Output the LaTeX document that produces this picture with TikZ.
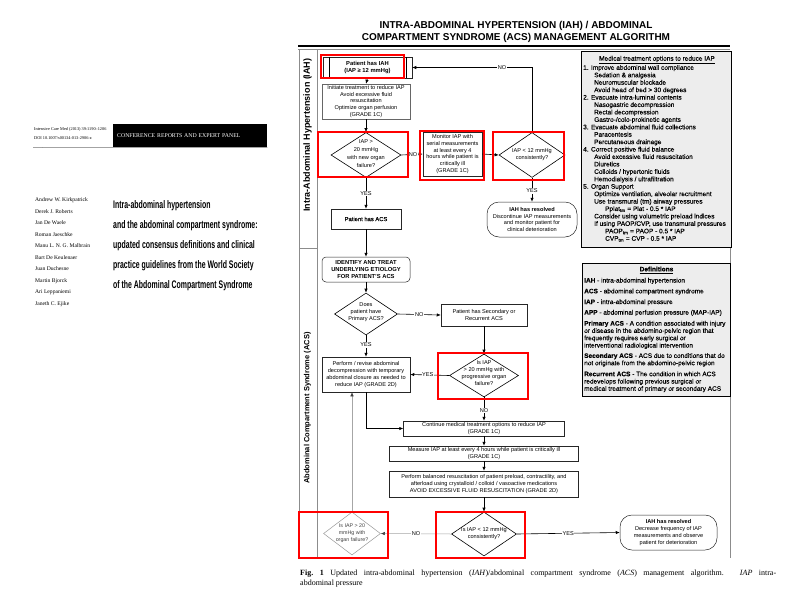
\documentclass[tikz,border=0pt]{standalone}
\usepackage{fontspec}
\usepackage{graphicx}
\setmainfont{Liberation Sans}
\newfontfamily\timesf{Liberation Serif}
\newfontfamily\semib[FakeBold=0.25]{Liberation Sans}
\usetikzlibrary{shapes.geometric,arrows.meta}
\newcommand\fsz[2]{\fontsize{#1}{#2}\selectfont}
\tikzset{
  flow/.style={draw=black!85, line width=0.5pt, fill=white, align=center, inner sep=0pt, font=\fsz{5.6}{6.8}},
  rnd/.style={flow, rounded corners=#1},
  dia/.style={diamond, draw=black, line width=0.6pt, fill=white, inner sep=0pt},
  dtxt/.style={align=center, inner sep=0pt, font=\fsz{5.6}{7.3}},
  arr/.style={-{Latex[length=4pt,width=3.4pt]}, line width=0.6pt},
  garr/.style={-{Latex[length=4pt,width=3.4pt,color=black!75]}, line width=0.5pt, draw=black!35},
  lbl/.style={fill=white, inner sep=0.6pt, font=\fsz{5.6}{6}},
  hl/.style={draw=red, line width=2pt},
  frm/.style={draw=black!45, line width=0.5pt},
  panel/.style={draw=black, line width=0.8pt, fill=black!7, inner sep=0pt, anchor=north west},
  ptxt/.style={inner sep=0pt, align=left, anchor=north west, font=\semib\fsz{6.5}{7.43}},
  ttlline/.style={anchor=base west, inner sep=0pt, font=\bfseries\fsz{11}{12}},
}
\begin{document}
\begin{tikzpicture}[x=1pt,y=-1pt]
\useasboundingbox (0,0) rectangle (800,600);
\fill[white] (0,0) rectangle (800,600);

% ---------- left: article header ----------
\node[anchor=west, inner sep=0, font=\timesf\fsz{4.3}{5}] (jr1) at (34,129) {Intensive Care Med (2013) 39:1190–1206};
\node[anchor=west, inner sep=0, font=\timesf\fsz{4.3}{5}] (jr2) at (34,138) {DOI 10.1007/s00134-013-2906-z};
\node[fill=black, text=white, anchor=north west, inner xsep=4pt, inner ysep=0pt, minimum height=23pt,
      text width=146pt, align=left, font=\timesf\fsz{5.8}{6}] (crep) at (113,124) {CONFERENCE REPORTS AND EXPERT PANEL};
\draw[black!55, line width=0.5pt] (33,147.5) -- (crep.south east);
\node[anchor=north west, inner sep=0, align=left, font=\timesf\fsz{5.6}{11.5}] (auth) at (35,197.5) {%
Andrew W. Kirkpatrick\\Derek J. Roberts\\Jan De Waele\\Roman Jaeschke\\Manu L. N. G. Malbrain\\%
Bart De Keulenaer\\Juan Duchesne\\Martin Bjorck\\Ari Leppaniemi\\Janeth C. Ejike};
\node[ttlline] (ttl1) at (113,208.5) {\scalebox{0.63}[1]{Intra-abdominal hypertension}};
\node[ttlline] (ttl2) at (113,228.5) {\scalebox{0.63}[1]{and the abdominal compartment syndrome:}};
\node[ttlline] (ttl3) at (113,248.5) {\scalebox{0.63}[1]{updated consensus definitions and clinical}};
\node[ttlline] (ttl4) at (113,268.5) {\scalebox{0.63}[1]{practice guidelines from the World Society}};
\node[ttlline] (ttl5) at (113,288.5) {\scalebox{0.63}[1]{of the Abdominal Compartment Syndrome}};

% ---------- main title ----------
\node[font=\bfseries\fsz{10}{12}, align=center, inner sep=0] (mtitle) at (516,31.5)
  {INTRA-ABDOMINAL HYPERTENSION (IAH) / ABDOMINAL\\COMPARTMENT SYNDROME (ACS) MANAGEMENT ALGORITHM};

% ---------- frame ----------
\draw[line width=1.4pt] (298,46) -- (730,46);
\draw[frm] (298,49) -- (730,49);
\draw[frm] (299,49) -- (299,558);
\draw[frm] (317,49) -- (317,558);
\draw[frm] (730,247) -- (730,558);
\draw[frm] (299,248) -- (317,248);
\node[rotate=90, inner sep=0, font=\bfseries\fsz{9}{10}] (lab1) at (307.5,135) {Intra-Abdominal Hypertension (IAH)};
\node[rotate=90, inner sep=0, font=\bfseries\fsz{7.5}{9}] (lab2) at (307.5,408) {Abdominal Compartment Syndrome (ACS)};

% ---------- right panels ----------
\node[panel, minimum width=150pt, minimum height=196pt] (treatbox) at (581,51) {};
\node[inner sep=0, font=\semib\fsz{6.5}{7}] (treatttl) at (657,60) {\underline{Medical treatment options to reduce IAP}};
\node[ptxt] (treat) at (583,64.9) {%
1. Improve abdominal wall compliance\\
\hspace*{11pt}Sedation \& analgesia\\
\hspace*{11pt}Neuromuscular blockade\\
\hspace*{11pt}Avoid head of bed > 30 degrees\\
2. Evacuate intra-luminal contents\\
\hspace*{11pt}Nasogastric decompression\\
\hspace*{11pt}Rectal decompression\\
\hspace*{11pt}Gastro-/colo-prokinetic agents\\
3. Evacuate abdominal fluid collections\\
\hspace*{11pt}Paracentesis\\
\hspace*{11pt}Percutaneous drainage\\
4. Correct positive fluid balance\\
\hspace*{11pt}Avoid excessive fluid resuscitation\\
\hspace*{11pt}Diuretics\\
\hspace*{11pt}Colloids / hypertonic fluids\\
\hspace*{11pt}Hemodialysis / ultrafiltration\\
5. Organ Support\\
\hspace*{11pt}Optimize ventilation, alveolar recruitment\\
\hspace*{11pt}Use transmural (tm) airway pressures\\
\hspace*{22pt}Pplat\textsubscript{tm} = Plat - 0.5 * IAP\\
\hspace*{11pt}Consider using volumetric preload indices\\
\hspace*{11pt}If using PAOP/CVP, use transmural pressures\\
\hspace*{22pt}PAOP\textsubscript{tm} = PAOP - 0.5 * IAP\\
\hspace*{22pt}CVP\textsubscript{tm} = CVP - 0.5 * IAP};

\node[panel, minimum width=148pt, minimum height=133pt] (defbox) at (582,263) {};
\node[inner sep=0, font=\semib\bfseries\fsz{6.5}{7}] (defttl) at (656.5,270) {\underline{Definitions}};
\node[ptxt, font=\semib\fsz{6.5}{7.3}] (defs) at (584,277.6) {%
\textbf{IAH} - intra-abdominal hypertension\\[3.5pt]
\textbf{ACS} - abdominal compartment syndrome\\[3.4pt]
\textbf{IAP} - intra-abdominal pressure\\[3.3pt]
\textbf{APP} - abdominal perfusion pressure (MAP-IAP)\\[3.7pt]
\textbf{Primary ACS} - A condition associated with injury\\
or disease in the abdomino-pelvic region that\\
frequently requires early surgical or\\
interventional radiological intervention\\[3.1pt]
\textbf{Secondary ACS} - ACS due to conditions that do\\
not originate from the abdomino-pelvic region\\[3.7pt]
\textbf{Recurrent ACS} - The condition in which ACS\\
redevelops following previous surgical or\\
medical treatment of primary or secondary ACS};

% ---------- IAH section ----------
\node[flow, minimum width=89pt, minimum height=21pt, font=\bfseries\fsz{5.8}{7.5}] (n1) at (367.5,67.5) {Patient has IAH\\(IAP ≥ 12 mmHg)};
\draw[line width=0.5pt] (329,57) -- (329,78) (406,57) -- (406,78);
\node[flow, draw=black!60, minimum width=88pt, minimum height=35pt] (n2) at (366,101.5)
  {Initiate treatment to reduce IAP\\Avoid excessive fluid\\resuscitation\\Optimize organ perfusion\\(GRADE 1C)};
\node[dia, minimum width=70pt, minimum height=45pt] (d1) at (366,155) {};
\node[dtxt, font=\fsz{5.6}{8}] (d1t) at (366,154) {IAP >\\20 mmHg\\with new organ\\failure?};
\node[flow, minimum width=59pt, minimum height=44pt, font=\fsz{5.6}{6.9}] (n3) at (452.5,154)
  {Monitor IAP with\\serial measurements\\at least every 4\\hours while patient is\\critically ill\\(GRADE 1C)};
\node[dia, minimum width=66pt, minimum height=45pt] (d2) at (532,155) {};
\node[dtxt] (d2t) at (532,154.7) {IAP < 12 mmHg\\consistently?};
\node[rnd=12pt, minimum width=90pt, minimum height=35pt] (n4) at (532,219.5)
  {\textbf{IAH has resolved}\\Discontinue IAP measurements\\and monitor patient for\\clinical deterioration};
\node[flow, minimum width=70pt, minimum height=20pt, font=\semib\fsz{5.8}{7}] (n5) at (366,219) {Patient has ACS};

% ---------- ACS section ----------
\node[rnd=4pt, minimum width=88pt, minimum height=25pt, font=\bfseries\fsz{5.8}{7.4}] (n6) at (366,269.5)
  {IDENTIFY AND TREAT\\UNDERLYING ETIOLOGY\\FOR PATIENT'S ACS};
\node[dia, minimum width=63pt, minimum height=42pt] (d3) at (366,314) {};
\node[dtxt] (d3t) at (366,312) {Does\\patient have\\Primary ACS?};
\node[flow, minimum width=86pt, minimum height=22pt, font=\fsz{5.6}{7.3}] (n7) at (484,315)
  {Patient has Secondary or\\Recurrent ACS};
\node[dia, minimum width=69pt, minimum height=43pt] (d4) at (484,375.5) {};
\node[dtxt, font=\fsz{5.6}{7}] (d4t) at (484,373.5) {Is IAP\\> 20 mmHg with\\progressive organ\\failure?};
\node[flow, minimum width=88pt, minimum height=35pt] (n8) at (366,374.5)
  {Perform / revise abdominal\\decompression with temporary\\abdominal closure as needed to\\reduce IAP (GRADE 2D)};
\node[flow, minimum width=161pt, minimum height=15pt, font=\fsz{5.6}{6.4}] (n9) at (484,428.5)
  {Continue medical treatment options to reduce IAP\\(GRADE 1C)};
\node[flow, minimum width=189pt, minimum height=15pt, font=\fsz{5.6}{6.4}] (n10) at (484,453.5)
  {Measure IAP at least every 4 hours while patient is critically ill\\(GRADE 1C)};
\node[flow, minimum width=189pt, minimum height=26pt, font=\fsz{5.6}{7}] (n11) at (484,484)
  {Perform balanced resuscitation of patient preload, contractility, and\\afterload using crystalloid / colloid / vasoactive medications\\AVOID EXCESSIVE FLUID RESUSCITATION (GRADE 2D)};
\node[dia, minimum width=65pt, minimum height=44pt] (d5) at (484,534) {};
\node[dtxt] (d5t) at (484,533.5) {Is IAP < 12 mmHg\\consistently?};
\node[rnd=12pt, minimum width=97pt, minimum height=35pt, font=\fsz{5.6}{7}] (n12) at (668.5,532.5)
  {\textbf{IAH has resolved}\\Decrease frequency of IAP\\measurements and observe\\patient for deterioration};
\node[dia, draw=black!40, line width=0.5pt, minimum width=57pt, minimum height=43pt] (d6) at (352,533.5) {};
\node[dtxt, text=black!75, font=\fsz{5.3}{7}] (d6t) at (352,533) {Is IAP > 20\\mmHg with\\organ failure?};

% ---------- connectors ----------
\draw[arr] (n1.south) -- (n2.north);
\draw[arr] (n2.south) -- (d1.north);
\draw[arr] (d1.east) -- node[lbl, pos=0.55] (lno1) {NO} (n3.west);
\draw[arr] (n3.east) -- (d2.west);
\draw[arr] (d2.north) |- node[lbl, pos=0.625] (lno2) {NO} (n1.east);
\draw[arr] (d2.south) -- node[lbl, pos=0.55] (lyes1) {YES} (n4.north);
\draw[arr] (d1.south) -- node[lbl, pos=0.5] (lyes2) {YES} (n5.north);
\draw[arr] (n5.south) -- (n6.north);
\draw[arr] (n6.south) -- (d3.north);
\draw[arr] (d3.east) -- node[lbl, pos=0.5] (lno3) {NO} (n7.west);
\draw[arr] (n7.south) -- (d4.north);
\draw[arr] (d4.west) -- node[lbl, pos=0.55] (lyes3) {YES} (n8.east);
\draw[arr] (d3.south) -- node[lbl, pos=0.45] (lyes4) {YES} (n8.north);
\draw[arr] (n8.south) |- (n9.west);
\draw[arr] (d4.south) -- node[lbl, pos=0.55] (lno4) {NO} (n9.north);
\draw[arr] (n9.south) -- (n10.north);
\draw[arr] (n10.south) -- (n11.north);
\draw[arr] (n11.south) -- (d5.north);
\draw[arr] (d5.east) -- node[lbl, pos=0.5] (lyes5) {YES} (n12.west);
\draw[garr] (d5.west) -- node[lbl, pos=0.5] (lno5) {NO} (d6.east);
\draw[garr] (d6.north) -- (d6.north |- n8.south);

% ---------- red highlights ----------
\draw[hl] (321,55) rectangle (404,78);
\draw[hl] (318,132) rectangle (408,177);
\draw[hl] (420,131) rectangle (484,180);
\draw[hl] (493,132) rectangle (564,180);
\draw[hl] (438,353) rectangle (528,399);
\draw[hl] (299,512) rectangle (388,558);
\draw[hl] (436,512) rectangle (525,558);

% ---------- caption ----------
\node[anchor=north west, inner sep=0, text width=476pt, align=justify, font=\timesf\fsz{8}{10}] (cap) at (300,569.6)
  {\textbf{Fig.~1} Updated intra-abdominal hypertension (\textit{IAH})/abdominal compartment syndrome (\textit{ACS}) management algorithm. \textit{IAP} intra-\linebreak abdominal pressure};
\end{tikzpicture}
\end{document}
